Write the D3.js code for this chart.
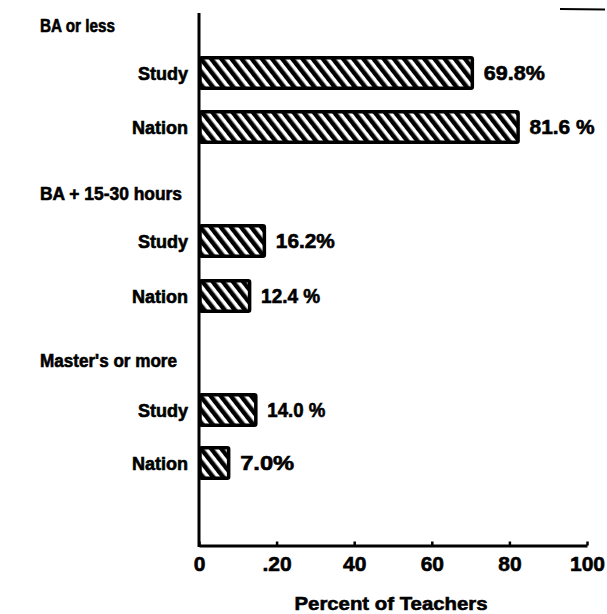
<!DOCTYPE html>
<html><head><meta charset="utf-8">
<script src="https://cdn.jsdelivr.net/npm/d3@7"></script>
<style>body{margin:0;background:#fff}</style>
</head><body>
<svg id="c" width="607" height="614"></svg>
<script>
const groups = ["BA or less", "BA + 15-30 hours", "Master's or more"];
const rowLabels = ["Study", "Nation"];
const values = [[69.8, 81.6], [16.2, 12.4], [14.0, 7.0]];
const valueLabels = [["69.8%", "81.6 %"], ["16.2%", "12.4 %"], ["14.0 %", "7.0%"]];
const tickValues = [0, 20, 40, 60, 80, 100];
const tickLabels = ["0", ".20", "40", "60", "80", "100"];
const axisTitle = "Percent of Teachers";

// layout (pixels)
const groupBaseline = [32, 200, 367];
const groupWidth = [75, 142, 137];
const rowCenter = [[73, 127], [241, 296], [410, 463]];
const valueWidth = [[61, 65], [59, 59], [58, 54]];

const svg = d3.select("#c");
const font = "'Liberation Sans', Arial, sans-serif";
const x = d3.scaleLinear().domain([0, 100]).range([199, 587]);

const defs = svg.append("defs");
const pat = defs.append("pattern").attr("id", "hatch").attr("patternUnits", "userSpaceOnUse")
  .attr("width", 8).attr("height", 8).attr("patternTransform", "rotate(-38)");
pat.append("rect").attr("width", 8).attr("height", 8).attr("fill", "#fff");
pat.append("line").attr("x1", 0).attr("y1", -1).attr("x2", 0).attr("y2", 9)
  .attr("stroke", "#000").attr("stroke-width", 9);

const barH = 30.5;

function txt(xp, yp, s, size, anchor, len) {
  const t = svg.append("text").attr("x", xp).attr("y", yp).attr("font-family", font)
    .attr("font-weight", "bold").attr("font-size", size).attr("text-anchor", anchor || "start")
    .attr("fill", "#000").attr("stroke", "#000").attr("stroke-width", 0.6).text(s);
  if (len) t.attr("textLength", len).attr("lengthAdjust", "spacingAndGlyphs");
  return t;
}

groups.forEach((g, gi) => {
  txt(40, groupBaseline[gi], g, 18, "start", groupWidth[gi]);
  rowLabels.forEach((r, ri) => {
    const cy = rowCenter[gi][ri];
    txt(188, cy + 6.5, r, 18, "end");
    const v = values[gi][ri];
    svg.append("rect").attr("x", x(0) + 1).attr("y", cy - barH / 2)
      .attr("width", x(v) - x(0) + 1.5).attr("height", barH).attr("rx", 1.5)
      .attr("fill", "url(#hatch)").attr("stroke", "#000").attr("stroke-width", 3.5);
    txt(x(v) + 14, cy + 7, valueLabels[gi][ri], 20, "start", valueWidth[gi][ri]);
  });
});

// axes
svg.append("line").attr("x1", x(0)).attr("x2", x(0)).attr("y1", 13).attr("y2", 547)
  .attr("stroke", "#000").attr("stroke-width", 3);
const ax = svg.append("g").attr("transform", "translate(0,545.5)")
  .call(d3.axisBottom(x).tickValues(tickValues).tickSize(-4).tickSizeOuter(0)
    .tickFormat((d, i) => tickLabels[i]));
ax.select(".domain").attr("stroke-width", 3).attr("stroke", "#000");
ax.selectAll(".tick line").attr("stroke-width", 2.5).attr("stroke", "#000");
ax.selectAll(".tick text").attr("font-family", font).attr("font-weight", "bold")
  .attr("font-size", 21).attr("y", 0).attr("dy", 25).attr("fill", "#000")
  .attr("stroke", "#000").attr("stroke-width", 0.6);
txt(391, 610, axisTitle, 19, "middle", 193);

// short stray mark top right
svg.append("line").attr("x1", 560).attr("x2", 605).attr("y1", 9).attr("y2", 9.5)
  .attr("stroke", "#000").attr("stroke-width", 2);
</script>
</body></html>
